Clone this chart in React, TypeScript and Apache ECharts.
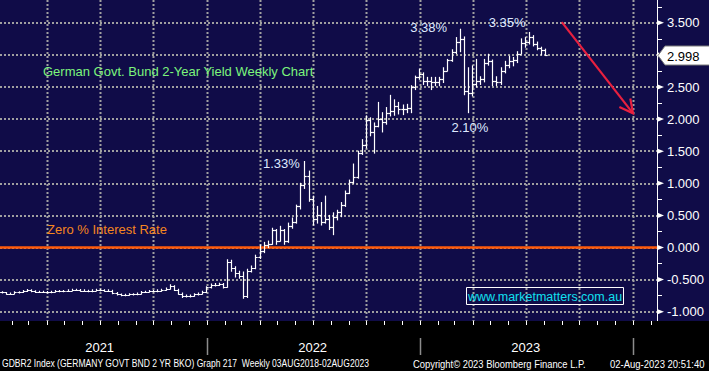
import React, { useEffect, useRef } from "react";
import * as echarts from "echarts";

// ---------- data (weekly OHLC, GDBR2 Index) ----------
const FIRST_WEEK = "2021-01-08";
const opens = [
  -0.71, -0.70, -0.70, -0.72, -0.72, -0.70, -0.70, -0.68, -0.665, -0.68,
  -0.69, -0.69, -0.69, -0.70, -0.69, -0.68, -0.68, -0.68, -0.67, -0.66,
  -0.66, -0.67, -0.67, -0.68, -0.67, -0.66, -0.665, -0.67, -0.67, -0.71,
  -0.73, -0.74, -0.74, -0.73, -0.73, -0.72, -0.69, -0.69, -0.68, -0.68,
  -0.67, -0.66, -0.64, -0.60, -0.66, -0.72, -0.76, -0.75, -0.75, -0.73,
  -0.72, -0.69, -0.62, -0.59, -0.58, -0.57, -0.61, -0.22, -0.32, -0.40,
  -0.45, -0.76, -0.36, -0.32, -0.15, -0.05, 0.04, 0.06, 0.27, 0.10,
  0.28, 0.10, 0.33, 0.40, 0.64, 0.98, 1.12, 0.76, 0.45, 0.50,
  0.40, 0.45, 0.32, 0.48, 0.55, 0.66, 0.85, 1.02, 1.10, 1.47,
  1.60, 1.98, 1.80, 1.90, 2.00, 1.95, 2.10, 2.12, 2.20, 2.15,
  2.15, 2.18, 2.50, 2.65, 2.70, 2.60, 2.60, 2.58, 2.58, 2.62,
  2.75, 2.92, 3.05, 3.20, 3.25, 2.44, 2.40, 2.55, 2.60, 2.62,
  2.88, 2.90, 2.60, 2.58, 2.75, 2.85, 2.90, 2.92, 3.02, 3.18,
  3.20, 3.28, 3.17, 3.10, 3.08,
];
const highs = [
  -0.69, -0.69, -0.70, -0.71, -0.69, -0.69, -0.67, -0.655, -0.66, -0.675,
  -0.68, -0.68, -0.685, -0.68, -0.67, -0.67, -0.67, -0.66, -0.65, -0.65,
  -0.655, -0.66, -0.665, -0.66, -0.65, -0.65, -0.66, -0.66, -0.665, -0.70,
  -0.725, -0.73, -0.72, -0.72, -0.71, -0.685, -0.68, -0.67, -0.67, -0.66,
  -0.65, -0.63, -0.58, -0.595, -0.65, -0.71, -0.74, -0.74, -0.72, -0.71,
  -0.68, -0.61, -0.57, -0.56, -0.555, -0.56, -0.19, -0.20, -0.30, -0.37,
  -0.38, -0.34, -0.29, -0.12, 0.04, 0.08, 0.10, 0.30, 0.28, 0.33,
  0.28, 0.38, 0.46, 0.66, 1.00, 1.34, 1.19, 0.80, 0.64, 0.70,
  0.80, 0.50, 0.54, 0.58, 0.70, 0.88, 1.05, 1.30, 1.50, 1.68,
  2.05, 2.02, 1.94, 2.26, 2.10, 2.18, 2.37, 2.30, 2.26, 2.22,
  2.23, 2.52, 2.67, 2.78, 2.72, 2.65, 2.65, 2.65, 2.65, 2.80,
  2.93, 3.08, 3.27, 3.40, 3.28, 2.80, 2.83, 2.93, 2.66, 2.93,
  3.01, 2.92, 2.66, 2.80, 2.90, 2.98, 2.96, 3.05, 3.25, 3.27,
  3.35, 3.30, 3.20, 3.12, 3.09,
];
const lows = [
  -0.72, -0.71, -0.73, -0.73, -0.72, -0.71, -0.70, -0.685, -0.69, -0.70,
  -0.70, -0.70, -0.71, -0.705, -0.695, -0.69, -0.69, -0.685, -0.675, -0.67,
  -0.68, -0.68, -0.69, -0.69, -0.675, -0.675, -0.68, -0.685, -0.72, -0.74,
  -0.75, -0.75, -0.745, -0.74, -0.735, -0.725, -0.70, -0.695, -0.69, -0.69,
  -0.68, -0.665, -0.645, -0.67, -0.73, -0.78, -0.77, -0.77, -0.76, -0.74,
  -0.725, -0.70, -0.63, -0.60, -0.59, -0.63, -0.62, -0.37, -0.46, -0.48,
  -0.79, -0.78, -0.38, -0.33, -0.17, -0.08, 0.00, 0.05, 0.05, 0.10,
  0.05, 0.08, 0.30, 0.38, 0.60, 0.92, 0.72, 0.35, 0.38, 0.35,
  0.38, 0.28, 0.20, 0.43, 0.48, 0.64, 0.84, 1.00, 1.08, 1.45,
  1.55, 1.74, 1.47, 1.88, 1.80, 1.92, 2.05, 2.06, 2.08, 2.07,
  2.10, 2.10, 2.46, 2.62, 2.54, 2.52, 2.46, 2.52, 2.52, 2.57,
  2.75, 2.90, 3.02, 3.05, 2.38, 2.10, 2.36, 2.50, 2.54, 2.58,
  2.84, 2.52, 2.52, 2.54, 2.72, 2.80, 2.83, 2.88, 3.02, 3.12,
  3.17, 3.14, 3.08, 3.00, 2.99,
];
const closes = [
  -0.70, -0.70, -0.72, -0.72, -0.70, -0.70, -0.68, -0.665, -0.68, -0.69,
  -0.69, -0.69, -0.70, -0.69, -0.68, -0.68, -0.68, -0.67, -0.66, -0.66,
  -0.67, -0.67, -0.68, -0.67, -0.66, -0.665, -0.67, -0.67, -0.71, -0.73,
  -0.74, -0.74, -0.73, -0.73, -0.72, -0.69, -0.69, -0.68, -0.68, -0.67,
  -0.66, -0.64, -0.60, -0.66, -0.72, -0.76, -0.75, -0.75, -0.73, -0.72,
  -0.69, -0.62, -0.59, -0.58, -0.57, -0.61, -0.22, -0.32, -0.40, -0.45,
  -0.76, -0.36, -0.32, -0.15, -0.05, 0.04, 0.06, 0.27, 0.10, 0.28,
  0.10, 0.33, 0.40, 0.64, 0.98, 1.12, 0.76, 0.45, 0.50, 0.40,
  0.45, 0.32, 0.48, 0.55, 0.66, 0.85, 1.02, 1.10, 1.47, 1.60,
  1.98, 1.80, 1.90, 2.00, 1.95, 2.10, 2.12, 2.20, 2.15, 2.15,
  2.18, 2.50, 2.65, 2.70, 2.60, 2.60, 2.58, 2.58, 2.62, 2.75,
  2.92, 3.05, 3.20, 3.25, 2.44, 2.40, 2.55, 2.60, 2.62, 2.88,
  2.90, 2.60, 2.58, 2.75, 2.85, 2.90, 2.92, 3.02, 3.18, 3.20,
  3.28, 3.17, 3.10, 3.08, 2.998,
];

const yTicks = [-1, -0.5, 0, 0.5, 1, 1.5, 2, 2.5, 3, 3.5];
const quarterDates = [
  "2021-04-01", "2021-07-01", "2021-10-01", "2022-01-01", "2022-04-01", "2022-07-01",
  "2022-10-01", "2023-01-01", "2023-04-01", "2023-07-01", "2023-10-01", "2024-01-01",
];
const monthDates = [
  "2021-02-01", "2021-03-01", "2021-04-01", "2021-05-01", "2021-06-01", "2021-07-01",
  "2021-08-01", "2021-09-01", "2021-10-01", "2021-11-01", "2021-12-01", "2022-01-01",
  "2022-02-01", "2022-03-01", "2022-04-01", "2022-05-01", "2022-06-01", "2022-07-01",
  "2022-08-01", "2022-09-01", "2022-10-01", "2022-11-01", "2022-12-01", "2023-01-01",
  "2023-02-01", "2023-03-01", "2023-04-01", "2023-05-01", "2023-06-01", "2023-07-01",
  "2023-08-01", "2023-09-01", "2023-10-01", "2023-11-01", "2023-12-01", "2024-01-01",
  "2024-02-01",
];
const yearBreakDates = ["2022-01-01", "2023-01-01", "2024-01-01"];
const yearLabels = ["2021", "2022", "2023"];
const yearLabelDates = ["2021-07-01", "2022-07-01", "2023-07-01"];
const noteTexts = ["1.33%", "3.38%", "2.10%", "3.35%"];
const noteDates = ["2022-06-17", "2023-03-10", "2023-03-24", "2023-07-07"];
const noteValues = [1.34, 3.4, 2.1, 3.35];
const zeroRate = 0;
const arrowFrom = ["2023-09-01", 3.51];
const arrowTo = ["2024-01-01", 2.09];
const footerTexts = [
  "GDBR2 Index (GERMANY GOVT BND 2 YR BKO) Graph 217  Weekly 03AUG2018-02AUG2023",
  "Copyright\u00a9 2023 Bloomberg Finance L.P.",
  "02-Aug-2023 20:51:40",
];

// ---------- layout / style ----------
const W = 709;
const H = 371;
const PLOT_BOTTOM = 321;
const NAVY = "#100c48";
const FONT = '"Liberation Sans", Arial, sans-serif';
const noteOffsets = [[-23, 2], [-31, -2], [2, 15], [-22, -10]];
const footerX = [2, 413, 610];
const footerScale = [0.855, 0.94, 0.95];

const ts = (s: string) => new Date(s + "T00:00:00").getTime();
const DAY = 86400000;
const weekDates = closes.map((_, i) => ts(FIRST_WEEK) + i * 7 * DAY);
const X_MIN = new Date("2021-01-11T07:00:00").getTime();
const X_MAX = new Date("2024-02-11T02:00:00").getTime();

export default function App() {
  const ref = useRef<HTMLDivElement>(null);

  useEffect(() => {
    document.body.style.margin = "0";
    const chart = echarts.init(ref.current!, null, { renderer: "svg" });
    const crisp = (v: number) => Math.round(v) + 0.5;

    const option: any = {
      animation: false,
      backgroundColor: NAVY,
      grid: {
        left: 0,
        right: 52,
        top: -9.3,
        bottom: 27.2,
        containLabel: false,
        outerBoundsMode: "none",
      },
      xAxis: {
        type: "time",
        min: X_MIN,
        max: X_MAX,
        axisLine: { show: false },
        axisTick: { show: false },
        axisLabel: { show: false },
        splitLine: { show: false },
      },
      yAxis: {
        type: "value",
        position: "right",
        min: -1.5,
        max: 4,
        interval: 0.5,
        axisLine: { show: true, lineStyle: { color: "#ffffff", width: 1 } },
        axisTick: { show: false },
        minorTick: { show: true, splitNumber: 2, length: 5, lineStyle: { color: "#ffffff", width: 1 } },
        axisLabel: {
          color: "#ffffff",
          fontSize: 13,
          fontFamily: FONT,
          margin: 10,
          showMaxLabel: false,
          showMinLabel: false,
          formatter: (v: number) => (v > 3.9 || v < -1.4 ? "" : v.toFixed(3)),
        },
        splitLine: { show: true, lineStyle: { color: "#a0a0a0", width: 2, type: [2, 2] } },
      },
      series: [
        {
          type: "custom",
          silent: true,
          z: 1,
          clip: false,
          data: quarterDates.map((d) => [ts(d), 0]),
          renderItem: (params: any, api: any) => {
            const x = crisp(api.coord([api.value(0), 0])[0]);
            return {
              type: "line",
              shape: { x1: x, y1: 0, x2: x, y2: PLOT_BOTTOM },
              style: { stroke: "#a0a0a0", lineWidth: 2, lineDash: [2, 2] },
            };
          },
        },
        {
          type: "line",
          silent: true,
          z: 3,
          symbol: "none",
          data: [[X_MIN, zeroRate], [X_MAX, zeroRate]],
          lineStyle: { color: "#ff5a0a", width: 2.5 },
        },
        {
          type: "custom",
          name: "GDBR2",
          silent: true,
          z: 5,
          clip: true,
          encode: { x: 0, y: [1, 2, 3, 4] },
          data: weekDates.map((t, i) => [t, opens[i], highs[i], lows[i], closes[i]]),
          renderItem: (params: any, api: any) => {
            const t = api.value(0);
            const x = crisp(api.coord([t, api.value(1)])[0]);
            const yo = api.coord([t, api.value(1)])[1];
            const yh = api.coord([t, api.value(2)])[1];
            const yl = api.coord([t, api.value(3)])[1];
            const yc = api.coord([t, api.value(4)])[1];
            const st = { stroke: "#ffffff", lineWidth: 1.2 };
            return {
              type: "group",
              children: [
                { type: "line", shape: { x1: x, y1: yh - 0.5, x2: x, y2: yl + 0.5 }, style: st },
                { type: "line", shape: { x1: x - 2.2, y1: crisp(yo), x2: x, y2: crisp(yo) }, style: st },
                { type: "line", shape: { x1: x, y1: crisp(yc), x2: x + 2.2, y2: crisp(yc) }, style: st },
              ],
            };
          },
        },
        {
          type: "custom",
          silent: true,
          z: 6,
          clip: false,
          data: noteDates.map((d, i) => [ts(d), noteValues[i]]),
          renderItem: (params: any, api: any) => {
            const p = api.coord([api.value(0), api.value(1)]);
            const off = noteOffsets[params.dataIndex];
            return {
              type: "text",
              x: p[0] + off[0],
              y: p[1] + off[1],
              style: {
                text: noteTexts[params.dataIndex],
                fill: "#dfe9ff",
                font: `13px ${FONT}`,
                textAlign: "center",
                textVerticalAlign: "middle",
              },
            };
          },
        },
        {
          type: "custom",
          silent: true,
          z: 7,
          clip: false,
          encode: { x: [0, 2], y: [1, 3] },
          data: [[ts(arrowFrom[0] as string), arrowFrom[1], ts(arrowTo[0] as string), arrowTo[1]]],
          renderItem: (params: any, api: any) => {
            const p1 = api.coord([api.value(0), api.value(1)]);
            const p2 = api.coord([api.value(2), api.value(3)]);
            const ang = Math.atan2(p2[1] - p1[1], p2[0] - p1[0]);
            const L = 15;
            const A = 0.48;
            const w1 = [p2[0] - L * Math.cos(ang - A), p2[1] - L * Math.sin(ang - A)];
            const w2 = [p2[0] - L * Math.cos(ang + A), p2[1] - L * Math.sin(ang + A)];
            const st = { stroke: "#e8203f", lineWidth: 2.2, fill: "none" };
            return {
              type: "group",
              children: [
                { type: "line", shape: { x1: p1[0], y1: p1[1], x2: p2[0], y2: p2[1] }, style: st },
                { type: "polyline", shape: { points: [w1, p2, w2] }, style: st },
              ],
            };
          },
        },
        {
          type: "custom",
          silent: true,
          z: 8,
          clip: false,
          data: yTicks.map((v) => [X_MIN, v]),
          renderItem: (params: any, api: any) => {
            const cs = params.coordSys;
            const x = cs.x + cs.width;
            const y = api.coord([api.value(0), api.value(1)])[1];
            return {
              type: "polygon",
              shape: { points: [[x, y - 2.8], [x + 7, y], [x, y + 2.8]] },
              style: { fill: "#ffffff" },
            };
          },
        },
        {
          type: "custom",
          silent: true,
          z: 9,
          clip: false,
          data: [[weekDates[weekDates.length - 1], closes[closes.length - 1]]],
          renderItem: (params: any, api: any) => {
            const cs = params.coordSys;
            const x = cs.x + cs.width + 1;
            const y = Math.round(api.coord([api.value(0), api.value(1)])[1]) + 0.5;
            return {
              type: "group",
              children: [
                {
                  type: "polygon",
                  shape: { points: [[x, y], [x + 7, y - 9.5], [W + 2, y - 9.5], [W + 2, y + 9.5], [x + 7, y + 9.5]] },
                  style: { fill: "#ffffff", stroke: "#7a7a7a", lineWidth: 1 },
                },
                {
                  type: "text",
                  x: x + 9,
                  y: y + 0.5,
                  style: {
                    text: (api.value(1) as number).toFixed(3),
                    fill: "#000000",
                    font: `13px ${FONT}`,
                    textAlign: "left",
                    textVerticalAlign: "middle",
                  },
                },
              ],
            };
          },
        },
        {
          type: "custom",
          silent: true,
          z: 110,
          clip: false,
          data: monthDates.map((d) => [ts(d), 0]),
          renderItem: (params: any, api: any) => {
            const x = crisp(api.coord([api.value(0), 0])[0]);
            return {
              type: "line",
              shape: { x1: x, y1: PLOT_BOTTOM, x2: x, y2: PLOT_BOTTOM + 4 },
              style: { stroke: "#ffffff", lineWidth: 1 },
            };
          },
        },
        {
          type: "custom",
          silent: true,
          z: 110,
          clip: false,
          data: yearBreakDates.map((d) => [ts(d), 0]),
          renderItem: (params: any, api: any) => {
            const x = crisp(api.coord([api.value(0), 0])[0]);
            return {
              type: "line",
              shape: { x1: x, y1: 338, x2: x, y2: 355 },
              style: { stroke: "#8c8c8c", lineWidth: 1.5 },
            };
          },
        },
        {
          type: "custom",
          silent: true,
          z: 110,
          clip: false,
          data: yearLabelDates.map((d) => [ts(d), 0]),
          renderItem: (params: any, api: any) => {
            const x = api.coord([api.value(0), 0])[0];
            return {
              type: "text",
              x,
              y: 347,
              style: {
                text: yearLabels[params.dataIndex],
                fill: "#ffffff",
                font: `13px ${FONT}`,
                textAlign: "center",
                textVerticalAlign: "middle",
              },
            };
          },
        },
      ],
      graphic: [
        {
          type: "rect",
          z: 100,
          silent: true,
          shape: { x: 0, y: PLOT_BOTTOM, width: W, height: H - PLOT_BOTTOM },
          style: { fill: "#000000" },
        },
        {
          type: "text",
          z: 120,
          x: 43,
          y: 71,
          style: {
            text: "German Govt. Bund 2-Year Yield Weekly Chart",
            fill: "#7cf57c",
            font: `13px ${FONT}`,
            textAlign: "left",
            textVerticalAlign: "middle",
          },
        },
        {
          type: "text",
          z: 120,
          x: 47,
          y: 229,
          style: {
            text: "Zero % Interest Rate",
            fill: "#f5861f",
            font: `13px ${FONT}`,
            textAlign: "left",
            textVerticalAlign: "middle",
          },
        },
        {
          type: "rect",
          z: 120,
          shape: { x: 466.5, y: 287.5, width: 157, height: 17 },
          style: { fill: "none", stroke: "#ffffff", lineWidth: 1 },
        },
        {
          type: "text",
          z: 120,
          x: 545,
          y: 296.5,
          style: {
            text: "www.marketmatters.com.au",
            fill: "#10e0f0",
            font: `12.5px ${FONT}`,
            textAlign: "center",
            textVerticalAlign: "middle",
          },
        },
        ...footerTexts.map((t, i) => ({
          type: "text",
          z: 120,
          x: footerX[i],
          y: 364,
          scaleX: footerScale[i],
          style: {
            text: t,
            fill: "#ffffff",
            font: `10px ${FONT}`,
            textAlign: "left",
            textVerticalAlign: "middle",
          },
        })),
      ],
    };

    chart.setOption(option);
    return () => chart.dispose();
  }, []);

  return (
    <div
      ref={ref}
      style={{ position: "fixed", left: 0, top: 0, width: W, height: H }}
    />
  );
}
